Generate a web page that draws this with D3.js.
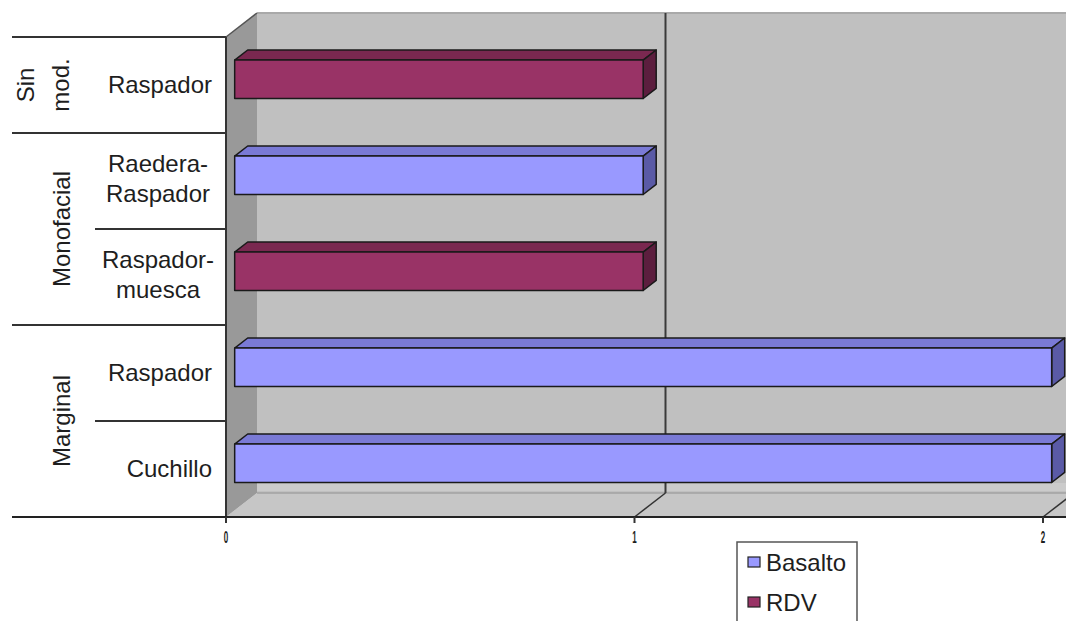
<!DOCTYPE html>
<html><head><meta charset="utf-8">
<script src="https://cdn.jsdelivr.net/npm/d3@7"></script>
<style>html,body{margin:0;padding:0;background:#fff;}svg{display:block;}text{font-family:"Liberation Sans",Arial,sans-serif;fill:#1e1e1e;}</style>
</head><body>
<svg id="chart" width="1066" height="621"></svg>
<script>
// ---- data ----
const categories = [["Raspador"], ["Raedera-", "Raspador"], ["Raspador-", "muesca"], ["Raspador"], ["Cuchillo"]];
const groups = [["Sin", "mod."], ["Monofacial"], ["Marginal"]];
const groupSpans = [[0, 0], [1, 2], [3, 4]];
const seriesNames = ["Basalto", "RDV"];
const basalto = [0, 1, 0, 2, 2];
const rdv = [1, 0, 1, 0, 0];
const tickValues = [0, 1, 2];
const seriesColors = {Basalto: ["#9999ff", "#7a7ad6", "#5a5aa6"], RDV: ["#993366", "#7a2850", "#5c1e3e"]};

const svg = d3.select("#chart");
const x = d3.scaleLinear().domain([0, 2]).range([226, 1043]);
const y = d3.scaleBand().domain(d3.range(categories.length)).range([37, 517]);
const DX = 31, DY = -24;
const P = (v, yy, d) => [x(v) + d * DX, yy + d * DY];
const poly = pts => pts.map(p => p.join(",")).join(" ");
const W = 1066;

// back wall
svg.append("rect").attr("x", x(0) + DX).attr("y", y.range()[0] + DY).attr("width", W - x(0) - DX).attr("height", y.range()[1] - y.range()[0])
  .attr("fill", "#c0c0c0");
svg.append("line").attr("x1", x(0) + DX).attr("x2", W).attr("y1", y.range()[0] + DY).attr("y2", y.range()[0] + DY)
  .attr("stroke", "#a9a9a9").attr("stroke-width", 2);
// floor
svg.append("polygon").attr("points", poly([[x(0), 517], [W, 517], [W, 517 + DY], [x(0) + DX, 517 + DY]])).attr("fill", "#c6c6c6");
svg.append("line").attr("x1", x(0) + DX).attr("x2", W).attr("y1", 517 + DY).attr("y2", 517 + DY).attr("stroke", "#a2a2a2").attr("stroke-width", 1.5);
svg.append("rect").attr("x", x(0) + DX).attr("y", 517 + DY - 10).attr("width", W - x(0) - DX).attr("height", 8).attr("fill", "#cbcbcb");
// left wall
svg.append("polygon").attr("points", poly([[x(0), 37], [x(0) + DX, 37 + DY], [x(0) + DX, 517 + DY], [x(0), 517]])).attr("fill", "#999999");
svg.append("line").attr("x1", x(0)).attr("y1", 37).attr("x2", x(0) + DX).attr("y2", 37 + DY).attr("stroke", "#555").attr("stroke-width", 1.5);

// gridlines
tickValues.filter(t => t > 0).forEach(t => {
  svg.append("line").attr("x1", x(t)).attr("y1", 517).attr("x2", x(t) + DX).attr("y2", 517 + DY).attr("stroke", "#333").attr("stroke-width", 1.5);
  svg.append("line").attr("x1", x(t) + DX).attr("y1", 37 + DY).attr("x2", x(t) + DX).attr("y2", 517 + DY).attr("stroke", "#3a3a3a").attr("stroke-width", 2);
});

// bars
const d0 = 0.28, d1 = 0.7;
const bh = y.bandwidth() * 0.4;
categories.forEach((c, i) => {
  [["Basalto", basalto[i]], ["RDV", rdv[i]]].forEach(([s, v]) => {
    if (!v) return;
    const cy = y(i) + y.bandwidth() / 2 + 1;
    const yt = cy - bh / 2, yb = cy + bh / 2;
    const col = seriesColors[s];
    const g = svg.append("g").attr("stroke", "#1a1a1a").attr("stroke-width", 1.5).attr("stroke-linejoin", "round");
    g.append("polygon").attr("points", poly([P(0, yt, d0), P(v, yt, d0), P(v, yt, d1), P(0, yt, d1)])).attr("fill", col[1]);
    g.append("polygon").attr("points", poly([P(v, yt, d0), P(v, yb, d0), P(v, yb, d1), P(v, yt, d1)])).attr("fill", col[2]);
    g.append("polygon").attr("points", poly([P(0, yt, d0), P(v, yt, d0), P(v, yb, d0), P(0, yb, d0)])).attr("fill", col[0]);
  });
});

// left axis lines
svg.append("line").attr("x1", x(0)).attr("y1", 37).attr("x2", x(0)).attr("y2", 522).attr("stroke", "#333").attr("stroke-width", 2);
const full = [y(0), y(1), y(3)];
full.forEach(yy => svg.append("line").attr("x1", 12).attr("x2", x(0)).attr("y1", yy).attr("y2", yy).attr("stroke", "#333").attr("stroke-width", 2));
svg.append("line").attr("x1", 12).attr("x2", W).attr("y1", 517).attr("y2", 517).attr("stroke", "#222").attr("stroke-width", 2);
[y(2), y(4)].forEach(yy => svg.append("line").attr("x1", 95).attr("x2", x(0)).attr("y1", yy).attr("y2", yy).attr("stroke", "#333").attr("stroke-width", 2));

// x ticks
tickValues.forEach(t => {
  svg.append("line").attr("x1", x(t)).attr("x2", x(t)).attr("y1", 517).attr("y2", 523).attr("stroke", "#333").attr("stroke-width", 2);
  svg.append("text").attr("x", x(t)).attr("y", 543).attr("text-anchor", "middle").attr("font-size", 16).attr("font-weight", "bold")
    .attr("fill", "#222")
    .attr("transform", `translate(${x(t)},0) scale(0.5,1) translate(${-x(t)},0)`).text(t);
});

// category labels
categories.forEach((lines, i) => {
  const cy = y(i) + y.bandwidth() / 2;
  if (lines.length === 1) {
    svg.append("text").attr("x", 212).attr("y", cy + 8).attr("text-anchor", "end").attr("font-size", 24).text(lines[0]);
  } else {
    lines.forEach((l, k) => svg.append("text").attr("x", 158).attr("y", cy - 9 + k * 30).attr("text-anchor", "middle").attr("font-size", 24).text(l));
  }
});

// group labels
groups.forEach((lines, gi) => {
  const [a, b] = groupSpans[gi];
  const cy = (y(a) + y(b) + y.bandwidth()) / 2;
  const xs = lines.length === 1 ? [70] : [34, 69];
  lines.forEach((l, k) => svg.append("text").attr("transform", `translate(${xs[k]},${cy}) rotate(-90)`)
    .attr("text-anchor", "middle").attr("font-size", 24).text(l));
});

// legend
svg.append("rect").attr("x", 737).attr("y", 542).attr("width", 120).attr("height", 100).attr("fill", "#fff").attr("stroke", "#555").attr("stroke-width", 1.5);
seriesNames.forEach((s, k) => {
  const ly = 562 + k * 40;
  svg.append("rect").attr("x", 748).attr("y", ly - 5).attr("width", 12).attr("height", 10).attr("fill", seriesColors[s][0]).attr("stroke", "#222").attr("stroke-width", 1.2);
  svg.append("text").attr("x", 766).attr("y", ly + 9).attr("font-size", 24).text(s);
});
</script>
</body></html>
